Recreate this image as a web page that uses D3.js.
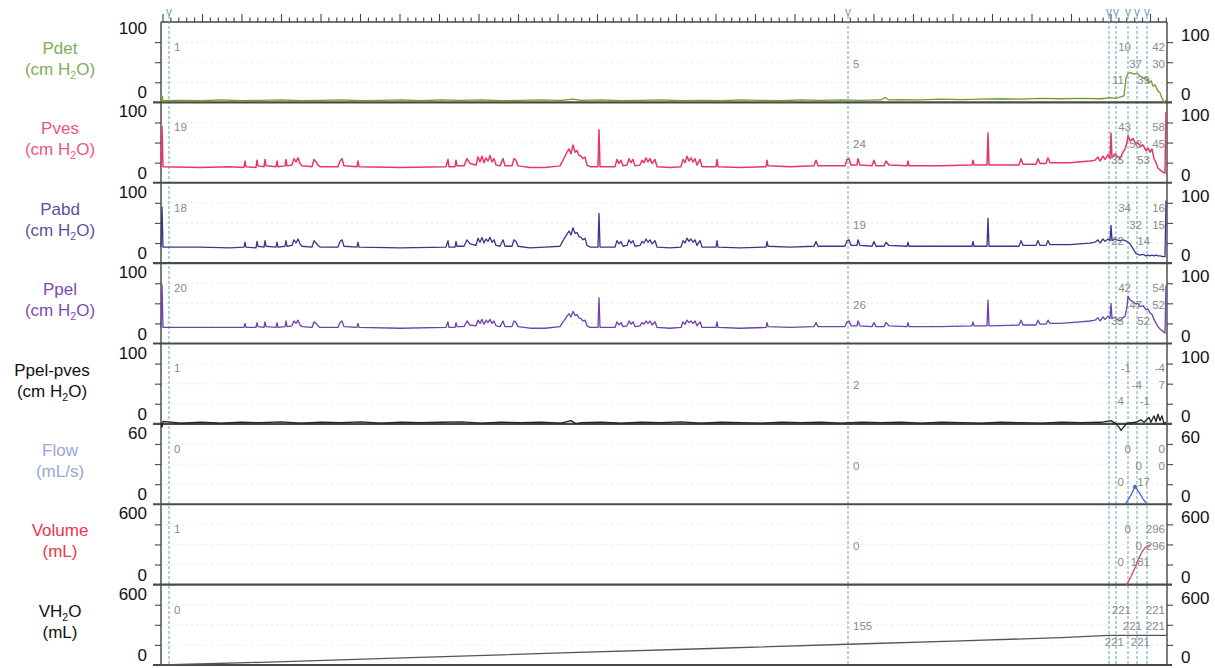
<!DOCTYPE html>
<html><head><meta charset="utf-8">
<script src="https://cdn.jsdelivr.net/npm/d3@7"></script>
<style>
body{margin:0;background:#fff;}
svg{display:block;font-family:"Liberation Sans",Arial,Helvetica,sans-serif;}
</style></head><body>
<svg id="chart" width="1215" height="668"></svg>
<script>
// ---------------- DATA ----------------
const channelNames = ["Pdet","Pves","Pabd","Ppel","Ppel-pves","Flow","Volume","VH2O"];
const channelUnits = ["(cm H2O)","(cm H2O)","(cm H2O)","(cm H2O)","(cm H2O)","(mL/s)","(mL)","(mL)"];
const channelMax = [100,100,100,100,100,60,600,600];
const channelLabelColors = ["#7fae5c","#ee5482","#5b5499","#7f4ab3","#111111","#9aa6d6","#f0334f","#111111"];
const traceColors = ["#6f9e2a","#e5386a","#38378a","#6a43ad","#222222","#4a67c9","#d9456e","#555555"];

// time in seconds from start of recording
const markerTimes = [8, 687, 948, 955, 967, 976, 986];
const readoutTimes = [8, 687, 963, 970, 981, 989, 1004, 1004];
const readoutRows = [1, 2, 3, 1, 2, 3, 1, 2];
const readoutAlign = ["start","start","end","end","end","end","end","end"];
const readPdet  = ["1","5","11","10","37","39","42","30"];
const readPves  = ["19","24","35","43","50","53","58","45"];
const readPabd  = ["18","19","22","34","32","14","16","15"];
const readPpel  = ["20","26","35","42","47","52","54","52"];
const readPdiff = ["1","2","4","-1","-4","-1","-4","7"];
const readFlow  = ["0","0","0","0","0","17","0","0"];
const readVol   = ["1","0","0","0","0","181","296","296"];
const readVH2O  = ["0","155","221","221","221","221","221","221"];

const pressureTime = [
 0,1,2,39,69,83,84,85,95,96,
 97,103,104,105,115,116,117,124,125,126,
 131,133,135,137,139,141,151,153,155,157,
 159,177,179,181,183,196,197,198,239,285,
 287,288,294,295,296,303,306,309,315,317,
 319,321,323,325,327,329,331,333,335,339,
 342,344,351,353,355,357,369,384,399,402,
 404,406,408,410,412,414,416,418,420,422,
 424,426,429,437,438,439,454,456,458,460,
 462,466,468,470,472,474,479,481,483,485,
 487,489,491,494,496,509,520,522,524,526,
 528,530,532,534,536,539,541,555,556,557,
 579,605,606,607,629,653,655,657,684,686,
 688,690,696,697,699,711,713,715,723,725,
 728,746,747,748,779,811,812,813,826,827,
 828,858,860,862,875,877,879,885,887,889,
 899,909,919,929,934,937,939,942,944,947,
 949,950,951,954,956,959,962,964,966,967,
 969,972,975,977,979,982,985,987,989,991,
 993,995,997,999,1002,1004,1005];
const pvesValues = [
 20,70,20,19,20,19,27,20,19,28,
 21,20,29,21,20,27,20,21,29,21,
 22,30,26,31,24,21,20,29,26,22,
 20,20,27,30,21,20,27,20,19,20,
 29,20,20,28,21,21,30,24,22,32,
 26,33,25,31,27,34,26,30,22,21,
 30,21,21,30,28,21,19,19,21,28,
 33,38,42,36,47,38,40,34,33,30,
 32,22,20,20,66,20,20,29,24,28,
 21,22,30,25,29,21,22,28,25,31,
 26,30,24,29,20,19,20,29,25,33,
 27,31,26,30,22,29,20,20,29,20,
 19,20,28,21,20,21,28,21,21,29,
 30,22,22,30,22,21,28,21,21,27,
 22,21,27,21,21,22,28,22,22,62,
 22,22,30,23,23,30,24,24,31,25,
 25,25,26,27,28,32,27,33,29,35,
 30,62,31,36,33,30,38,42,50,59,
 52,55,48,50,45,47,40,43,38,42,
 30,25,18,16,13,12,88];
const pabdValues = [
 20,70,20,20,19,20,26,20,19,27,
 21,20,28,21,20,26,20,21,28,21,
 22,29,25,30,24,21,20,28,25,22,
 20,20,27,29,21,20,26,20,19,20,
 28,20,20,27,21,21,29,24,22,31,
 26,32,25,30,27,32,26,29,22,21,
 29,21,21,29,27,21,19,20,21,28,
 32,36,40,35,44,37,38,33,32,29,
 31,22,20,20,62,20,20,28,24,27,
 21,22,29,25,28,21,22,27,25,30,
 26,29,24,28,20,19,20,28,25,31,
 27,30,26,29,22,28,20,20,28,20,
 19,20,27,21,20,21,27,21,21,28,
 29,22,22,29,22,21,27,21,21,26,
 22,21,26,21,21,21,27,21,21,56,
 21,21,28,22,22,28,22,22,28,23,
 23,23,24,25,26,29,25,30,27,30,
 28,47,28,30,29,28,29,28,27,26,
 24,18,12,11,10,11,9,10,9,10,
 9,10,9,9,8,8,78];
const ppelValues = [
 20,73,20,20,20,20,25,20,20,26,
 21,20,27,21,20,26,20,21,28,21,
 22,28,25,29,23,21,20,27,25,22,
 20,20,26,28,21,20,25,20,19,20,
 27,20,20,26,21,21,28,23,22,29,
 25,30,24,29,26,30,25,28,22,21,
 28,21,21,28,26,21,19,19,21,27,
 30,34,37,33,40,35,36,32,31,28,
 29,22,20,20,57,20,20,27,23,26,
 21,22,28,24,27,21,22,26,24,28,
 25,28,23,27,20,19,20,27,24,29,
 26,28,25,28,22,27,20,20,27,20,
 19,20,26,21,20,21,26,21,21,27,
 28,22,22,28,22,21,26,21,21,26,
 22,21,26,21,21,22,27,22,22,54,
 22,23,29,23,23,29,24,24,29,25,
 25,26,27,28,29,32,28,33,30,34,
 31,50,31,33,30,28,32,34,45,59,
 54,52,49,50,46,47,42,43,38,36,
 30,25,21,18,15,13,72];

const pdetTime = [0,1,2,20,40,60,80,100,120,140,160,180,200,220,240,260,280,300,320,340,360,380,400,
 412,420,440,460,480,500,520,540,560,580,600,620,640,660,680,700,720,724,728,
 740,760,780,800,820,840,860,880,900,920,940,950,955,960,963,
 965,967,970,973,976,979,982,985,988,990,992,994,997,999,1001,1003,1005];
const pdetValues = [2,8,2,2.5,2,3,2,2.5,3,2,2.5,3,2,2.5,3,2,3,2.5,3,2,2.5,3,2.5,
 4,2.5,3,2,2.5,3,2,2.5,2,3,2.5,2,3,2.5,3,2.5,3,6,3,
 3.5,3,4,3.5,4,4.5,4,5,4.5,5,4.5,6,5,7,8,
 30,36,37,35,36,33,30,31,24,27,20,22,14,12,5,0,3];

const pdiffTime = [0,1,2,20,40,60,80,100,120,140,160,180,200,220,240,260,280,300,320,340,360,380,400,
 410,415,420,440,460,480,500,520,540,560,580,600,620,640,660,680,700,720,740,760,780,800,820,840,860,880,900,920,940,
 950,955,958,960,962,964,966,975,980,983,988,990,993,995,997,999,1001,1003,1005];
const pdiffValues = [1,-4,3,1,2,1,2,1.5,2.5,1,2,1.5,2.5,1,2,1.5,2,2.5,1,2,1.5,2,1,
 4,0,1.5,2,1,2,1.5,2.5,1,2,1.5,1,2,1.5,2,1,2,1.5,2,1,2,1.5,1,2,1.5,1,2,1.5,2,
 4,0,-4,-8,-5,-2,1,2,5,2,8,2,10,3,12,4,10,0,2];

const flowTime = [964,966,970,974,978,982,986];
const flowValues = [0,2,7,13,9,4,0];
const volumeTime = [965,966,970,974,978,981,984,987,989];
const volumeValues = [0,5,60,126,200,244,275,290,296];
const vh2oTime = [0,100,250,400,550,687,800,900,948,1006];
const vh2oValues = [0,20,55,90,123,155,180,205,221,221];

const series = [
  [pdetTime, pdetValues],
  [pressureTime, pvesValues],
  [pressureTime, pabdValues],
  [pressureTime, ppelValues],
  [pdiffTime, pdiffValues],
  [flowTime, flowValues],
  [volumeTime, volumeValues],
  [vh2oTime, vh2oValues]
];
const readouts = [readPdet, readPves, readPabd, readPpel, readPdiff, readFlow, readVol, readVH2O];

// ---------------- LAYOUT ----------------
const svg = d3.select("#chart");
const plotLeft = 161, plotRight = 1167, plotTop = 22, plotBottom = 665;
const x = d3.scaleLinear().domain([0, 1006]).range([plotLeft, plotRight]);
const nP = channelNames.length;
const band = (plotBottom - plotTop) / nP;
const yScales = channelMax.map((m, i) =>
  d3.scaleLinear().domain([0, m]).range([plotTop + (i + 1) * band, plotTop + i * band]));

function richText(sel, str) {
  const parts = str.split(/(H2O)/);
  parts.forEach(p => {
    if (p === "H2O") {
      sel.append("tspan").text("H");
      sel.append("tspan").attr("font-size", "0.62em").attr("dy", 4).text("2");
      sel.append("tspan").attr("dy", -4).text("O");
    } else if (p.length) {
      sel.append("tspan").text(p);
    }
  });
}

// gridlines
channelMax.forEach((m, i) => {
  const y = yScales[i];
  svg.append("g").selectAll("line").data([0.25, 0.5, 0.75].map(f => f * m)).join("line")
    .attr("x1", plotLeft).attr("x2", plotRight)
    .attr("y1", d => y(d)).attr("y2", d => y(d))
    .attr("stroke", "#e3e3e3").attr("stroke-width", 0.8).attr("stroke-dasharray", "2,3");
});

// left & right axes (ticks only)
channelMax.forEach((m, i) => {
  const y = yScales[i];
  const tv = [0.25, 0.5, 0.75].map(f => f * m);
  const gl = svg.append("g").attr("transform", `translate(${plotLeft},0)`)
    .call(d3.axisLeft(y).tickValues(tv).tickSize(6).tickFormat(""));
  gl.select(".domain").remove();
  gl.selectAll("line").attr("stroke", "#555").attr("stroke-width", 1.2);
  const gr = svg.append("g").attr("transform", `translate(${plotRight},0)`)
    .call(d3.axisRight(y).tickValues(tv).tickSize(6).tickFormat(""));
  gr.select(".domain").remove();
  gr.selectAll("line").attr("stroke", "#555").attr("stroke-width", 1.2);

  const top = y(m), bot = y(0);
  svg.append("text").attr("x", 147).attr("y", top + (i === 0 ? 12 : 15)).attr("text-anchor", "end")
    .attr("font-size", 17).attr("fill", "#111").text(m);
  svg.append("text").attr("x", 147).attr("y", bot - 4).attr("text-anchor", "end")
    .attr("font-size", 17).attr("fill", "#111").text(0);
  svg.append("text").attr("x", 1181).attr("y", top + 19).attr("text-anchor", "start")
    .attr("font-size", 17).attr("fill", "#111").text(m);
  svg.append("text").attr("x", 1181).attr("y", bot - 2).attr("text-anchor", "start")
    .attr("font-size", 17).attr("fill", "#111").text(0);

  // channel labels
  const cx = channelNames[i] === "Ppel-pves" ? 52 : 60;
  const t1 = svg.append("text").attr("x", cx).attr("y", top + 32).attr("text-anchor", "middle")
    .attr("font-size", 17).attr("fill", channelLabelColors[i]);
  richText(t1, channelNames[i]);
  const t2 = svg.append("text").attr("x", cx).attr("y", top + 53).attr("text-anchor", "middle")
    .attr("font-size", 17).attr("fill", channelLabelColors[i]);
  richText(t2, channelUnits[i]);
});

// vertical axis lines
[plotLeft, plotRight].forEach(px => {
  svg.append("line").attr("x1", px).attr("x2", px).attr("y1", plotTop).attr("y2", plotBottom)
    .attr("stroke", "#444").attr("stroke-width", 1.4);
});

// top ruler
svg.append("line").attr("x1", plotLeft).attr("x2", plotRight).attr("y1", plotTop).attr("y2", plotTop)
  .attr("stroke", "#444").attr("stroke-width", 1.4);
const rulerTicks = d3.range(2, 1006, 7.9);
svg.append("g").selectAll("line").data(rulerTicks).join("line")
  .attr("x1", d => x(d)).attr("x2", d => x(d))
  .attr("y1", plotTop).attr("y2", (d, i) => i % 5 === 0 ? plotTop - 8 : plotTop - 4.5)
  .attr("stroke", "#444").attr("stroke-width", 1.1);

// marker lines
svg.append("g").selectAll("line").data(markerTimes).join("line")
  .attr("x1", d => x(d)).attr("x2", d => x(d)).attr("y1", 16).attr("y2", plotBottom)
  .attr("stroke", "#5fa6b6").attr("stroke-width", 1).attr("stroke-dasharray", "3,2");
svg.append("g").selectAll("text").data(markerTimes).join("text")
  .attr("x", d => x(d)).attr("y", 16).attr("text-anchor", "middle")
  .attr("font-size", 12).attr("fill", "#6aa5b8").text("v");

// panel boundary lines
d3.range(nP).forEach(i => {
  const yb = yScales[i](0);
  svg.append("line").attr("x1", 153).attr("x2", 1172).attr("y1", yb).attr("y2", yb)
    .attr("stroke", "#4a4a4a").attr("stroke-width", 2.2);
});

// traces
series.forEach(([tArr, vArr], i) => {
  const y = yScales[i];
  const data = d3.zip(tArr, vArr);
  svg.append("path").datum(data)
    .attr("fill", "none").attr("stroke", traceColors[i])
    .attr("stroke-width", i === 1 ? 1.5 : 1.3).attr("stroke-linejoin", "round")
    .attr("d", d3.line().x(d => x(d[0])).y(d => y(d[1])));
});

// flow peak dot
{
  const k = flowValues.indexOf(d3.max(flowValues));
  svg.append("circle").attr("cx", x(flowTime[k])).attr("cy", yScales[5](flowValues[k]))
    .attr("r", 2).attr("fill", traceColors[5]);
}

// readout numbers
const rowFrac = {1: 0.69, 2: 0.48, 3: 0.28};
readouts.forEach((vals, i) => {
  const y = yScales[i], m = channelMax[i];
  vals.forEach((v, k) => {
    const anc = readoutAlign[k];
    svg.append("text")
      .attr("x", x(readoutTimes[k]) + (anc === "start" ? 5 : 0))
      .attr("y", y(m * rowFrac[readoutRows[k]]) + 4)
      .attr("text-anchor", anc)
      .attr("font-size", 11.5).attr("fill", "#8a8a8a").text(v);
  });
});
</script>
</body></html>
